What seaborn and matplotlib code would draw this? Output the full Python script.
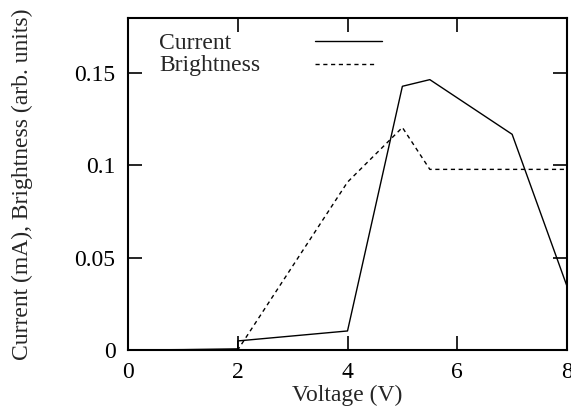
import pandas as pd
import seaborn as sns
import matplotlib.pyplot as plt

# Dados
voltage_current = [0, 1, 2, 2, 4, 5, 5.5, 7, 8]
current = [0, 0.0002, 0.0006, 0.0049, 0.0103, 0.1428, 0.1464, 0.1168, 0.0345]

voltage_bright = [0, 2, 4, 5, 5.5, 8]
brightness = [0, 0, 0.0909, 0.1205, 0.0978, 0.0978]

x_ticks = [0, 2, 4, 6, 8]
y_ticks = [0, 0.05, 0.1, 0.15]
y_tick_labels = ["0", "0.05", "0.1", "0.15"]

df_cur = pd.DataFrame({"v": voltage_current, "y": current})
df_bri = pd.DataFrame({"v": voltage_bright, "y": brightness})

sns.set_style("ticks")
plt.rcParams["font.family"] = ["Liberation Serif", "DejaVu Serif"]
plt.rcParams["font.size"] = 17

dash = (0, (3, 2.6))

fig = plt.figure(figsize=(5.71, 4.09), dpi=100)
ax = fig.add_axes([0.2242, 0.1443, 0.993 - 0.2242, 0.957 - 0.1443])

sns.lineplot(data=df_cur, x="v", y="y", estimator=None, sort=False,
             color="black", linewidth=1.0, ax=ax)
sns.lineplot(data=df_bri, x="v", y="y", estimator=None, sort=False,
             color="black", linewidth=1.0, linestyle=dash, ax=ax)

ax.set_xlim(0, 8)
ax.set_ylim(0, 0.18)
ax.set_xticks(x_ticks)
ax.set_yticks(y_ticks)
ax.set_yticklabels(y_tick_labels)
ax.tick_params(direction="in", length=10, width=1.2, top=True, right=True,
               labelsize=17, colors="black", pad=9)
for s in ax.spines.values():
    s.set_linewidth(1.5)
    s.set_color("black")

ax.set_xlabel("Voltage (V)", fontsize=17, labelpad=1)
ax.set_ylabel("Current (mA), Brightness (arb. units)", fontsize=17, labelpad=30)

# legenda no estilo gnuplot: texto à esquerda, amostra da linha à direita
ax.text(0.0706, 0.905, "Current", transform=ax.transAxes, va="baseline", ha="left", fontsize=17)
ax.text(0.0706, 0.839, "Brightness", transform=ax.transAxes, va="baseline", ha="left", fontsize=17)
ax.plot([0.426, 0.579], [0.930, 0.930], transform=ax.transAxes, color="black", lw=1.0)
ax.plot([0.426, 0.567], [0.860, 0.860], transform=ax.transAxes, color="black", lw=1.0, linestyle=dash)

plt.savefig("out.png", dpi=100)
